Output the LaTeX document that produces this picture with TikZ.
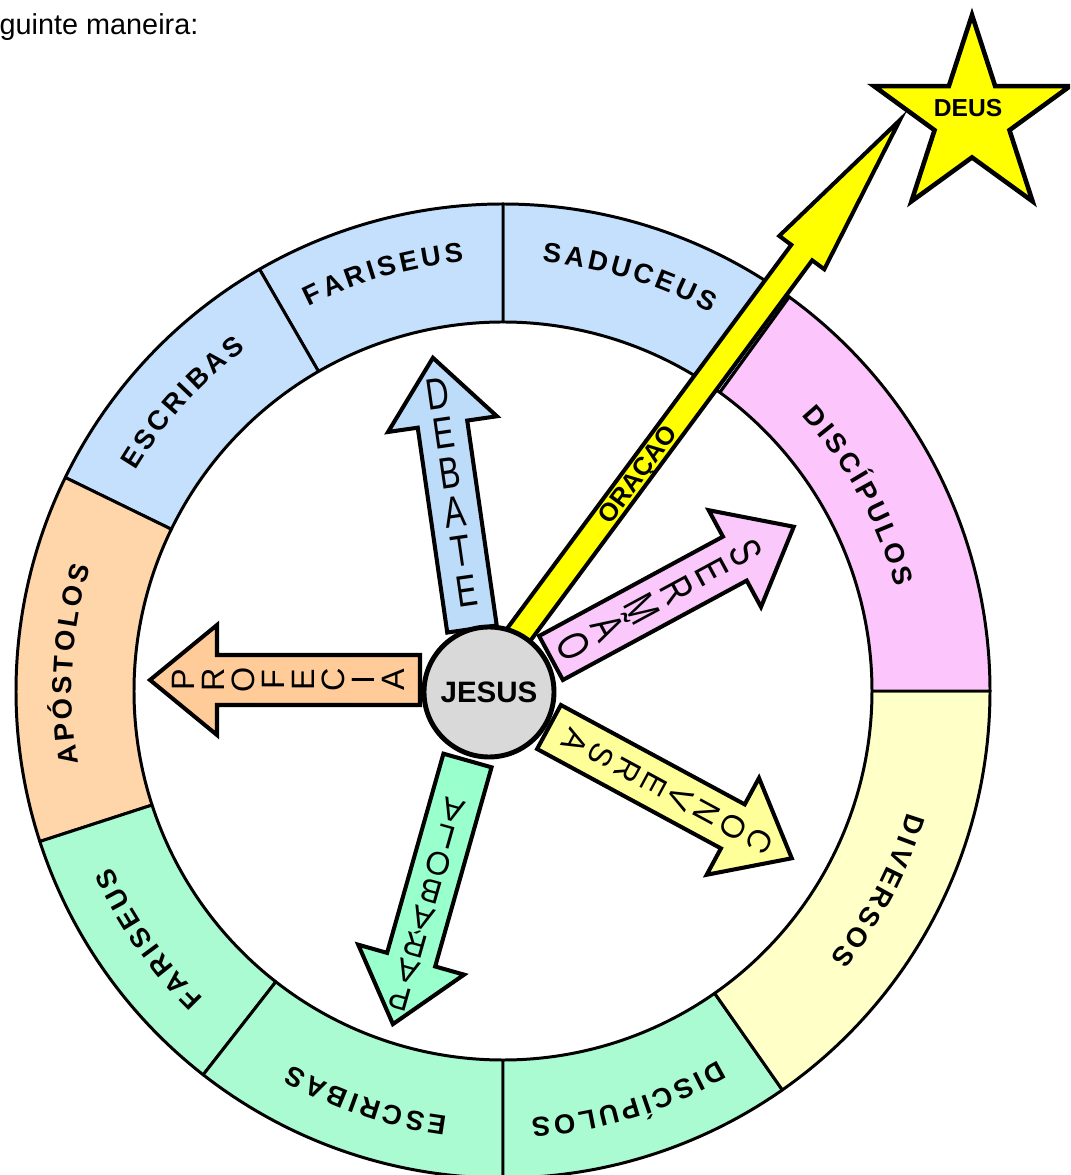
\documentclass[tikz,border=0pt]{standalone}
\usepackage{fontspec}
\setmainfont{Liberation Sans}
\newfontfamily\lsans{Liberation Sans}
\newcommand\ringfnt{\lsans\bfseries\fontsize{7.8pt}{9pt}\selectfont}
\font\ringmeasure="Liberation Sans/B" at 7.8pt
\def\rlsp{0.95}
\def\RingOut{4.87}
\def\RingIn{3.69}
\definecolor{ringblue}{HTML}{C4E0FC}
\definecolor{ringpeach}{HTML}{FFD5AA}
\definecolor{ringmint}{HTML}{AAFAD2}
\definecolor{ringpink}{HTML}{FCC6FC}
\definecolor{ringyellow}{HTML}{FFFFC8}
\definecolor{arrblue}{HTML}{BCDCFA}
\definecolor{arrpink}{HTML}{FAC8FA}
\definecolor{arrpeach}{HTML}{FFCC99}
\definecolor{arryellow}{HTML}{FFFF99}
\definecolor{arrmint}{HTML}{99FFCC}
\definecolor{jesusgray}{HTML}{D9D9D9}
\definecolor{pureyellow}{HTML}{FFFF00}
\tikzset{
  ringline/.style={draw=black, line width=0.85pt, line join=round},
  arrowline/.style={draw=black, line width=1.15pt, line join=miter},
  ringletter/.style={inner sep=0pt, anchor=base, font=\ringfnt},
  bigletter/.style={transform shape, rotate=-90, xscale=0.72, inner sep=0pt, text height=8.9pt, text depth=0pt, font=\lsans\fontsize{12.5pt}{14pt}\selectfont},
  smallletter/.style={transform shape, rotate=-90, inner sep=0pt, text height=6.6pt, text depth=0pt, font=\lsans\fontsize{9.2pt}{11pt}\selectfont},
  oracaotext/.style={transform shape, inner sep=0pt, font=\lsans\bfseries\fontsize{7.3pt}{8pt}\selectfont},
}
\newcommand\sector[3]{%
  \draw[ringline, fill=#3] (#1:\RingOut) arc[start angle=#1, end angle=#2, radius=\RingOut]
    -- (#2:\RingIn) arc[start angle=#2, end angle=#1, radius=\RingIn] -- cycle;}
% #1 name, #2 mid angle, #3 baseline radius (cm), #4 letters
\newcommand\ringlabel[4]{%
  \pgfmathsetmacro\rlrad{#3*28.45274}%
  \gdef\rltot{0}%
  \foreach \ch in {#4}{%
    \setbox0=\hbox{\ringmeasure\ch}\edef\rlcw{\the\wd0}%
    \pgfmathsetmacro\rltmp{\rltot+\rlcw+\rlsp}%
    \global\let\rltot\rltmp}%
  \pgfmathsetmacro\rlstart{#2+(\rltot-\rlsp)/2/\rlrad*180/pi}%
  \gdef\rlcum{0}%
  \foreach \ch [count=\k] in {#4}{%
    \setbox0=\hbox{\ringmeasure\ch}\edef\rlcw{\the\wd0}%
    \pgfmathsetmacro\rlang{\rlstart-(\rlcum+\rlcw/2)/\rlrad*180/pi}%
    \node[ringletter, rotate=\rlang-90] (#1-\k) at (\rlang:#3) {\ch};%
    \pgfmathsetmacro\rltmp{\rlcum+\rlcw+\rlsp}%
    \global\let\rlcum\rltmp}%
}
% #1 name, #2 base, #3 angle, #4 length, #5 fill, #6 letter style, #7 first t, #8 spacing, #9 letters
\newcommand\blockarrow[9]{%
  \begin{scope}[shift={#2}, rotate=#3]
    \draw[arrowline, fill=#5] (0,-0.25) -- ({#4-0.67},-0.25) -- ({#4-0.67},-0.55) -- (#4,0)
      -- ({#4-0.67},0.55) -- ({#4-0.67},0.25) -- (0,0.25) -- cycle;
    \foreach \ch [count=\k from 0] in {#9}{\node[#6] (#1-\k) at ({#7-\k*#8},0) {\ch};}
  \end{scope}}
\begin{document}
\begin{tikzpicture}
\useasboundingbox (-5.03,-4.84) rectangle (5.67,6.91);
\clip (-5.03,-4.84) rectangle (5.67,6.91);
\fill[white] (-5.03,-4.84) rectangle (5.67,6.91);

% ring
\sector{54}{90}{ringblue}
\sector{90}{120}{ringblue}
\sector{120}{154}{ringblue}
\sector{154}{198}{ringpeach}
\sector{198}{232}{ringmint}
\sector{232}{270}{ringmint}
\sector{270}{305}{ringmint}
\sector{305}{360}{ringyellow}
\sector{0}{54}{ringpink}

\ringlabel{saduceus}{73}{4.31}{S,A,D,U,C,E,U,S}
\ringlabel{fariseusA}{106}{4.31}{F,A,R,I,S,E,U,S}
\ringlabel{escribasA}{138}{4.28}{E,S,C,R,I,B,A,S}
\ringlabel{apostolos}{176.5}{4.31}{A,P,Ó,S,T,O,L,O,S}
\ringlabel{fariseusB}{215}{4.29}{F,A,R,I,S,E,U,S}
\ringlabel{escribasB}{251.5}{4.29}{E,S,C,R,I,B,A,S}
\ringlabel{discipulosB}{287}{4.28}{D,I,S,C,Í,P,U,L,O,S}
\ringlabel{diversos}{332}{4.22}{D,I,V,E,R,S,O,S}
\ringlabel{discipulosA}{28.7}{4.06}{D,I,S,C,Í,P,U,L,O,S}

% prayer arrow
\begin{scope}[shift={(-0.06,0.27)}, rotate=53.47]
  \draw[arrowline, fill=pureyellow] (0,-0.13) -- (5.12,-0.13) -- (5.12,-0.28) -- (6.77,0)
    -- (5.12,0.28) -- (5.12,0.13) -- (0,0.13) -- cycle;
  \node[oracaotext] (oracao) at (2.36,0) {ORAÇÃO};
\end{scope}

% block arrows
\blockarrow{debate}{(-0.31,0.62)}{98.2}{2.74}{arrblue}{bigletter}{2.38}{0.398}{D,E,B,A,T,E}
\blockarrow{sermao}{(0.48,0.33)}{28.4}{2.76}{arrpink}{bigletter}{2.22}{0.392}{S,E,R,M,Ã,O}
\blockarrow{profecia}{(-0.83,0.11)}{180}{2.70}{arrpeach}{smallletter}{2.37}{0.30}{P,R,O,F,E,C,I,A}
\blockarrow{conversa}{(0.46,-0.36)}{-28.4}{2.76}{arryellow}{smallletter}{2.40}{0.30}{C,O,N,V,E,R,S,A}
\blockarrow{parabola}{(-0.355,-0.695)}{-105.8}{2.74}{arrmint}{smallletter}{2.48}{0.28}{P,A,R,Á,B,O,L,A}

% centre
\node[circle, draw=black, line width=1.4pt, fill=jesusgray, minimum size=1.30cm, inner sep=0pt,
      font=\lsans\bfseries\fontsize{8.4pt}{10pt}\selectfont] (jesus) at (-0.14,-0.01) {JESUS};

% star
\coordinate (starc) at (4.69,5.73);
\draw[arrowline, line width=1.3pt, fill=pureyellow, shift={(starc)}]
  (90:1.03) -- (126:0.394) -- (162:1.03) -- (198:0.394) -- (234:1.03) -- (270:0.394)
  -- (306:1.03) -- (342:0.394) -- (18:1.03) -- (54:0.394) -- cycle;
\node[inner sep=0pt, font=\lsans\bfseries\fontsize{7pt}{8pt}\selectfont] (deus) at (4.65,5.83) {DEUS};

% caption
\node[anchor=base west, inner sep=0pt, font=\fontsize{8.2pt}{10pt}\selectfont] (caption) at (-5.04,6.56) {guinte maneira:};
\end{tikzpicture}
\end{document}
